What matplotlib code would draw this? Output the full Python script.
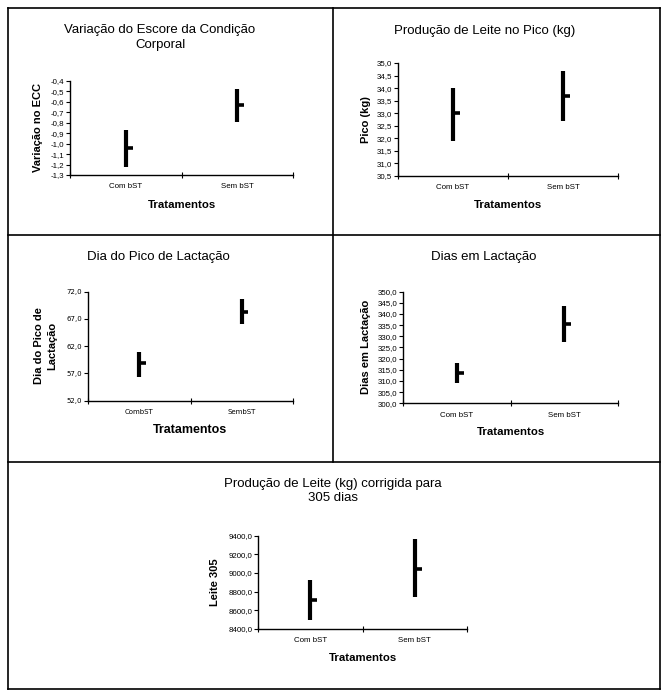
import matplotlib
matplotlib.use("Agg")
import matplotlib.pyplot as plt
from matplotlib.lines import Line2D

plt.rcParams["font.family"] = ["Liberation Sans", "DejaVu Sans"]

W, H = 670, 695  # figure size in pixels

# --- data ---
categorias = ["Com bST", "Sem bST"]
categorias_p3 = ["CombST", "SembST"]

ecc_max = [-0.87, -0.48]
ecc_min = [-1.22, -0.79]
ecc_media = [-1.04, -0.63]
ecc_ticks = [-1.3, -1.2, -1.1, -1.0, -0.9, -0.8, -0.7, -0.6, -0.5, -0.4]

pico_max = [34.0, 34.7]
pico_min = [31.9, 32.7]
pico_media = [33.0, 33.7]
pico_ticks = [30.5, 31.0, 31.5, 32.0, 32.5, 33.0, 33.5, 34.0, 34.5, 35.0]

diapico_max = [60.9, 70.7]
diapico_min = [56.4, 66.0]
diapico_media = [58.9, 68.2]
diapico_ticks = [52.0, 57.0, 62.0, 67.0, 72.0]

lact_max = [317.9, 343.6]
lact_min = [309.3, 327.3]
lact_media = [313.7, 335.7]
lact_ticks = [300.0, 305.0, 310.0, 315.0, 320.0, 325.0, 330.0, 335.0, 340.0, 345.0, 350.0]

leite_max = [8925, 9365]
leite_min = [8495, 8740]
leite_media = [8710, 9045]
leite_ticks = [8400.0, 8600.0, 8800.0, 9000.0, 9200.0, 9400.0]


def fx(x):
    return x / W


def fy(y):
    return 1 - y / H


def virgula(v):
    return f"{v:.1f}".replace(".", ",")


def painel(fig, box, titulo, titulo_xy, ylabel, ylabel_xy, trat_xy,
           hi, lo, med, ticks, cats, tick_font="Liberation Sans", tick_size=5.7,
           trat_size=8.2):
    x0, y0, x1, y1 = box  # pixel box of the plotting area
    ax = fig.add_axes([fx(x0), fy(y1), (x1 - x0) / W, (y1 - y0) / H])
    pos = [0.5, 1.5]
    # high-low line with the mean marked to the right (stock chart style)
    ax.vlines(pos, lo, hi, color="black", linewidth=3.0, capstyle="butt")
    ax.hlines(med, pos, [p + 0.065 for p in pos], color="black", linewidth=2.6,
              capstyle="butt")
    ax.set_xlim(0, 2)
    ax.set_ylim(ticks[0], ticks[-1])
    ax.set_yticks(ticks)
    ax.set_yticklabels([virgula(t) for t in ticks], fontsize=tick_size,
                       family=tick_font)
    ax.set_xticks([0, 1, 2])
    ax.set_xticklabels([])
    ax.set_xticks(pos, minor=True)
    ax.set_xticklabels(cats, minor=True, fontsize=tick_size, family=tick_font)
    ax.tick_params(axis="y", direction="out", length=3, width=0.8, pad=1)
    ax.tick_params(axis="x", which="major", direction="inout", length=4, width=0.8)
    ax.tick_params(axis="x", which="minor", length=0, pad=6)
    for s in ["top", "right"]:
        ax.spines[s].set_visible(False)
    for s in ["left", "bottom"]:
        ax.spines[s].set_linewidth(1.0)
    ax.patch.set_alpha(0)

    fig.text(fx(titulo_xy[0]), fy(titulo_xy[1]), titulo, ha="center", va="center",
             fontsize=9.5, linespacing=1.3)
    fig.text(fx(ylabel_xy[0]), fy(ylabel_xy[1]), ylabel, ha="center", va="center",
             rotation=90, fontsize=8, fontweight="bold", linespacing=1.45)
    fig.text(fx(trat_xy[0]), fy(trat_xy[1]), "Tratamentos", ha="center",
             va="center", fontsize=trat_size, fontweight="bold")
    return ax


fig = plt.figure(figsize=(W / 100, H / 100), dpi=100)

# frame lines of the table
lw = 1.2
bordas = [
    ((8, 660), (8, 8)),
    ((8, 660), (689, 689)),
    ((8, 8), (8, 689)),
    ((660, 660), (8, 689)),
    ((333, 333), (8, 462)),
    ((8, 660), (235, 235)),
    ((8, 660), (462, 462)),
]
for xs, ys in bordas:
    fig.add_artist(Line2D([fx(x) for x in xs], [fy(y) for y in ys],
                          color="black", linewidth=lw))

painel(fig, (70, 81, 293, 175), "Variação do Escore da Condição\nCorporal", (160, 37.5),
       "Variação no ECC", (38, 128), (182, 204.5),
       ecc_max, ecc_min, ecc_media, ecc_ticks, categorias)

painel(fig, (398, 63, 618, 176), "Produção de Leite no Pico (kg)", (485, 31),
       "Pico (kg)", (366, 119.5), (508, 205),
       pico_max, pico_min, pico_media, pico_ticks, categorias)

painel(fig, (88, 291.7, 293, 400.7), "Dia do Pico de Lactação", (158, 256.7),
       "Dia do Pico de\nLactação", (45.5, 346), (190, 430),
       diapico_max, diapico_min, diapico_media, diapico_ticks, categorias_p3,
       tick_font="DejaVu Sans", tick_size=5.0, trat_size=9)

painel(fig, (403, 291.7, 618, 403.3), "Dias em Lactação", (484, 256.7),
       "Dias em Lactação", (365.7, 346.7), (511, 431.7),
       lact_max, lact_min, lact_media, lact_ticks, categorias)

painel(fig, (258, 535.7, 467, 629), "Produção de Leite (kg) corrigida para\n305 dias",
       (333, 491), "Leite 305", (215, 582), (362.7, 657.7),
       leite_max, leite_min, leite_media, leite_ticks, categorias)

fig.savefig("out.png", dpi=100, facecolor="white")
